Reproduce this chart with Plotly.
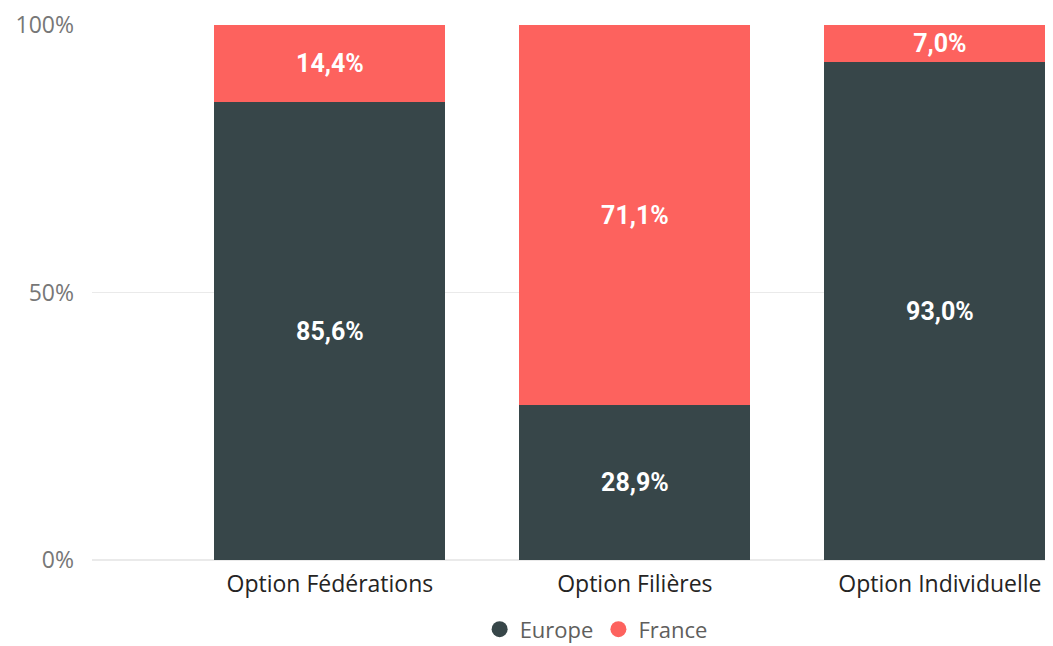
import plotly.graph_objects as go

categories = ["Option Fédérations", "Option Filières", "Option Individuelle"]
europe = [85.6, 28.9, 93.0]
france = [14.4, 71.1, 7.0]
series_names = ["Europe", "France"]
colors = ["#374649", "#FD625E"]
y_ticks = [0, 50, 100]
y_tick_labels = ["0%", "50%", "100%"]

fig = go.Figure()
for name, vals, col in zip(series_names, [europe, france], colors):
    fig.add_trace(go.Bar(
        x=categories, y=vals, name=name, marker=dict(color=col, line=dict(width=0)),
        width=0.757, texttemplate="%{y:.1f}%", textposition="inside",
        insidetextanchor="middle", constraintext="none",
        textfont=dict(family="Roboto", size=25, color="white", weight="bold"),
        showlegend=False, hoverinfo="skip",
    ))
    fig.add_trace(go.Scatter(
        x=[None], y=[None], mode="markers", name=name,
        marker=dict(symbol="circle", size=18, color=col), showlegend=True,
    ))

fig.update_layout(
    barmode="stack", width=1045, height=638, separators=",.",
    margin=dict(l=84, r=0, t=17, b=86),
    plot_bgcolor="white", paper_bgcolor="white",
    font=dict(family="Open Sans", size=23, color="#252423"),
    legend=dict(orientation="h", x=0.5246, xanchor="center",
                yref="container", y=0.026, yanchor="middle",
                traceorder="normal",
                font=dict(size=22, color="#605E5C"), itemsizing="trace",
                itemwidth=30, tracegroupgap=0),
)
fig.update_xaxes(type="category", range=[-0.78, 2.3708], showgrid=False, showline=False,
                 ticks="", ticklabelstandoff=8, automargin=False,
                 tickfont=dict(size=23, color="#252423"))
fig.update_yaxes(range=[0, 100], tickvals=y_ticks, ticktext=y_tick_labels,
                 showgrid=True, gridcolor="#EAEAEA", gridwidth=1, zeroline=True,
                 zerolinecolor="#EAEAEA", ticks="", ticklabelstandoff=17, automargin=False,
                 tickfont=dict(size=23, color="#777777"))
fig.write_html("out.html")
